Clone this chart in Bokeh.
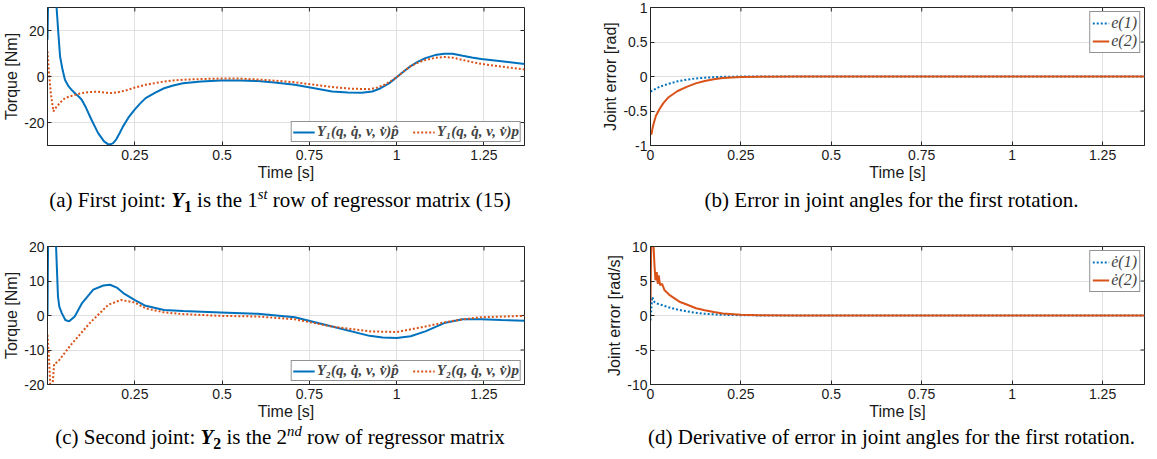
import math
from bokeh.plotting import figure
from bokeh.models import FixedTicker, Range1d, Div, Legend, LegendItem
from bokeh.layouts import row, column
from bokeh.embed import file_html
from bokeh.resources import INLINE

BLUE = "#0072BD"
ORANGE = "#D95319"

# ---------------- data ----------------
# (a) first joint torque
a_blue_t = [0, 0.002, 0.01, 0.02, 0.026, 0.031, 0.036, 0.043, 0.05, 0.06, 0.069, 0.08, 0.09, 0.098,
            0.11, 0.126, 0.145, 0.162, 0.172, 0.18, 0.188, 0.197, 0.206, 0.216, 0.232, 0.249, 0.265,
            0.281, 0.31, 0.334, 0.36, 0.388, 0.44, 0.495, 0.55, 0.602, 0.65, 0.708, 0.76, 0.815,
            0.86, 0.9, 0.93, 0.954, 0.978, 1.0, 1.02, 1.039, 1.06, 1.082, 1.11, 1.136, 1.16, 1.189,
            1.215, 1.242, 1.3, 1.366]
a_blue_v = [16, 35, 60, 45, 30, 19, 8.7, 3.0, -1.4, -4.2, -5.8, -7.5, -8.8, -10.1,
            -13.5, -18.8, -24.6, -28.2, -29.3, -29.5, -29.0, -27.3, -24.8, -21.8, -17.8, -14.5, -11.8,
            -9.4, -6.9, -5.1, -3.9, -2.9, -2.2, -1.7, -1.7, -2.0, -2.6, -3.6, -5.0, -6.5,
            -7.0, -7.1, -6.5, -5.1, -3.0, -0.3, 2.2, 4.4, 6.4, 8.0, 9.3, 9.9, 9.9, 9.0,
            8.3, 7.6, 6.6, 5.4]
a_orange_t = [0, 0.004, 0.01, 0.017, 0.024, 0.031, 0.04, 0.05, 0.065, 0.079, 0.093, 0.107, 0.125,
              0.145, 0.165, 0.183, 0.2, 0.226, 0.25, 0.281, 0.31, 0.334, 0.36, 0.388, 0.44, 0.495,
              0.55, 0.602, 0.65, 0.708, 0.76, 0.815, 0.87, 0.922, 0.945, 0.965, 0.983, 1.0, 1.02,
              1.039, 1.06, 1.082, 1.11, 1.136, 1.16, 1.189, 1.215, 1.242, 1.3, 1.366]
a_orange_v = [10.9, 2.0, -8.0, -15.2, -13.5, -12.3, -10.8, -9.4, -8.6, -8.0, -7.4, -7.0, -6.7,
              -6.6, -7.0, -7.2, -6.9, -6.0, -4.8, -3.6, -2.8, -2.2, -1.7, -1.4, -1.1, -0.9,
              -0.9, -1.3, -1.8, -2.5, -3.5, -4.6, -5.3, -5.5, -4.8, -3.6, -2.0, -0.3, 2.2,
              4.4, 6.0, 7.2, 8.1, 8.5, 8.2, 7.2, 6.3, 5.5, 4.3, 3.1]

# (b) joint angle error
b_e1_t = [0, 0.01, 0.025, 0.05, 0.075, 0.1, 0.125, 0.15, 0.175, 0.2, 0.25, 0.3, 1.366]
b_e1_v = [-0.22, -0.19, -0.15, -0.105, -0.07, -0.045, -0.028, -0.017, -0.01, -0.005, -0.001, 0, 0]
b_e2_t = [0, 0.003, 0.006, 0.01, 0.015, 0.025, 0.035, 0.05, 0.075, 0.1, 0.125, 0.15, 0.175,
          0.2, 0.25, 0.3, 0.4, 1.366]
b_e2_v = [-0.84, -0.83, -0.74, -0.66, -0.57, -0.47, -0.39, -0.30, -0.21, -0.15, -0.10, -0.065,
          -0.04, -0.022, -0.007, -0.002, 0, 0]

# (c) second joint torque
c_blue_t = [0, 0.002, 0.008, 0.018, 0.0245, 0.030, 0.034, 0.041, 0.051, 0.062, 0.078, 0.099,
            0.131, 0.16, 0.179, 0.2, 0.217, 0.249, 0.281, 0.334, 0.388, 0.495, 0.602, 0.708,
            0.815, 0.922, 0.96, 1.0, 1.04, 1.082, 1.136, 1.189, 1.242, 1.3, 1.366]
c_blue_v = [0, 25, 45, 35, 20, 5.5, 2.5, 0.7, -1.3, -1.7, -0.3, 3.6,
            7.5, 8.7, 8.9, 8.0, 6.5, 4.5, 2.8, 1.6, 1.3, 0.9, 0.5, -0.5,
            -3.2, -5.9, -6.4, -6.5, -6.0, -4.6, -2.2, -1.1, -1.1, -1.3, -1.5]
c_orange_t = [0, 0.004, 0.008, 0.014, 0.019, 0.03, 0.067, 0.121, 0.174, 0.21, 0.249, 0.281,
              0.334, 0.388, 0.495, 0.602, 0.708, 0.815, 0.922, 1.0, 1.082, 1.136, 1.189, 1.242,
              1.366]
c_orange_v = [-5.6, -12, -20.5, -21, -14, -13.4, -8.5, -2.2, 3.1, 4.5, 3.8, 2.1,
              0.9, 0.4, -0.1, -0.3, -1.1, -3.2, -4.6, -4.8, -3.2, -2.0, -1.1, -0.5,
              -0.1]

# (d) derivative of joint angle error
d_e1_t = [0, 0.003, 0.005, 0.008, 0.012, 0.02, 0.035, 0.05, 0.075, 0.1, 0.125, 0.15, 0.2,
          0.25, 0.3, 1.366]
d_e1_v = [-0.7, 1.5, 2.7, 2.2, 1.9, 1.7, 1.45, 1.2, 0.85, 0.6, 0.4, 0.25, 0.1,
          0.04, 0.01, 0]
d_e2_t = [0, 0.0016, 0.004, 0.0062, 0.0085, 0.0108, 0.0136, 0.0173, 0.020, 0.0228, 0.0264,
          0.032, 0.0384, 0.052, 0.08, 0.1, 0.126, 0.15, 0.175, 0.2, 0.25, 0.3, 0.4, 1.366]
d_e2_v = [2.0, 9, 12, 12, 10, 7.5, 5.1, 6.3, 4.6, 5.8, 4.4,
          4.6, 3.7, 3.0, 2.0, 1.6, 1.05, 0.75, 0.5, 0.3, 0.12, 0.05, 0.01, 0]

# ticks / labels
x_ticks_ac = [0.25, 0.5, 0.75, 1, 1.25]
x_labels_ac = ["0.25", "0.5", "0.75", "1", "1.25"]
x_ticks_bd = [0, 0.25, 0.5, 0.75, 1, 1.25]
x_labels_bd = ["0", "0.25", "0.5", "0.75", "1", "1.25"]
y_ticks_a = [-20, 0, 20]
y_labels_a = ["-20", "0", "20"]
y_ticks_b = [-1, -0.5, 0, 0.5, 1]
y_labels_b = ["-1", "-0.5", "0", "0.5", "1"]
y_ticks_c = [-20, -10, 0, 10, 20]
y_labels_c = ["-20", "-10", "0", "10", "20"]
y_ticks_d = [-10, -5, 0, 5, 10]
y_labels_d = ["-10", "-5", "0", "5", "10"]

x_lim = (0, 1.366)
y_lim_a = (-30, 30)
y_lim_b = (-1, 1)
y_lim_c = (-20, 20)
y_lim_d = (-10, 10)

leg_a = ["Y\u2081(q, q\u0307, v, v\u0307)p\u0302", "Y\u2081(q, q\u0307, v, v\u0307)p"]
leg_c = ["Y\u2082(q, q\u0307, v, v\u0307)p\u0302", "Y\u2082(q, q\u0307, v, v\u0307)p"]
leg_b = ["e(1)", "e(2)"]
leg_d = ["\u0117(1)", "\u0117(2)"]

SUP = '<sup style="font-size:70%; line-height:0"><i>{}</i></sup>'
SUB = '<sub style="font-size:75%; line-height:0">{}</sub>'
cap_a = "(a) First joint: <b><i>Y</i>" + SUB.format("1") + "</b> is the 1" + SUP.format("st") + " row of regressor matrix (15)"
cap_b = "(b) Error in joint angles for the first rotation."
cap_c = "(c) Second joint: <b><i>Y</i>" + SUB.format("2") + "</b> is the 2" + SUP.format("nd") + " row of regressor matrix"
cap_d = "(d) Derivative of error in joint angles for the first rotation."

SANS = "Liberation Sans"
SERIF = "Liberation Serif"
AX = "#262626"


def make_fig(frame_w, bl, br, bt, bb, yr, xticks, xlabels, yticks, ylabels, ylabel):
    p = figure(frame_width=frame_w, frame_height=138,
               min_border_left=bl, min_border_right=br, min_border_top=bt, min_border_bottom=bb,
               x_range=Range1d(*x_lim), y_range=Range1d(*yr),
               output_backend="svg", toolbar_location=None,
               x_axis_label="Time [s]", y_axis_label=ylabel)
    p.background_fill_color = "white"
    p.border_fill_color = "white"
    p.outline_line_color = AX
    p.outline_line_width = 1
    p.xaxis.ticker = FixedTicker(ticks=xticks)
    p.yaxis.ticker = FixedTicker(ticks=yticks)
    p.xaxis.major_label_overrides = {t: l for t, l in zip(xticks, xlabels)}
    p.yaxis.major_label_overrides = {t: l for t, l in zip(yticks, ylabels)}
    for ax in (p.xaxis[0], p.yaxis[0]):
        ax.major_label_text_font = SANS
        ax.major_label_text_font_size = "14px"
        ax.major_label_text_color = "#1a1a1a"
        ax.axis_label_text_font = SANS
        ax.axis_label_text_font_size = "16px"
        ax.axis_label_text_font_style = "normal"
        ax.axis_label_text_color = "#1a1a1a"
        ax.major_tick_in = 4
        ax.major_tick_out = 0
        ax.minor_tick_line_color = None
        ax.axis_line_color = AX
        ax.major_tick_line_color = AX
    p.xaxis.major_label_standoff = 4
    p.yaxis.major_label_standoff = 3
    p.xaxis.axis_label_standoff = 1
    p.yaxis.axis_label_standoff = 1
    p.xgrid.ticker = FixedTicker(ticks=xticks)
    p.ygrid.ticker = FixedTicker(ticks=yticks)
    p.grid.grid_line_color = "#e1e1e1"
    p.grid.grid_line_width = 1
    # inward tick marks on the top and right sides of the box (clipped to the frame)
    p.scatter(x=xticks, y=[yr[1]] * len(xticks), marker="dash", angle=math.pi / 2,
              size=8, line_color=AX, line_width=1)
    p.scatter(x=[x_lim[1]] * len(yticks), y=yticks, marker="dash",
              size=8, line_color=AX, line_width=1)
    return p


def torque_legend(p, r1, r2, labels):
    lg = Legend(items=[LegendItem(label=labels[0], renderers=[r1]),
                       LegendItem(label=labels[1], renderers=[r2])],
                location="bottom_right", orientation="horizontal", margin=3,
                padding=1, spacing=14, glyph_width=22, glyph_height=12, label_standoff=2,
                label_height=15, label_text_font=SERIF, label_text_font_size="15px",
                label_text_font_style="bold italic", border_line_color=AX,
                border_line_width=1, background_fill_alpha=1)
    p.add_layout(lg)


def err_legend(p, r1, r2, labels):
    lg = Legend(items=[LegendItem(label=labels[0], renderers=[r1]),
                       LegendItem(label=labels[1], renderers=[r2])],
                location="top_right", orientation="vertical", margin=4,
                padding=2, spacing=0, glyph_width=17, glyph_height=14, label_standoff=2,
                label_height=15, label_text_font=SERIF, label_text_font_size="16px",
                label_text_font_style="italic", border_line_color=AX,
                border_line_width=1, background_fill_alpha=1)
    p.add_layout(lg)


DOT = "2 2"

# (a)
fa = make_fig(477, 43, 62, 6, 41, y_lim_a, x_ticks_ac, x_labels_ac, y_ticks_a, y_labels_a, "Torque [Nm]")
ra1 = fa.line(a_blue_t, a_blue_v, line_color=BLUE, line_width=2)
ra2 = fa.line(a_orange_t, a_orange_v, line_color=ORANGE, line_width=2, line_dash=DOT)
torque_legend(fa, ra1, ra2, leg_a)

# (b)
fb = make_fig(494, 64, 1, 6, 41, y_lim_b, x_ticks_bd, x_labels_bd, y_ticks_b, y_labels_b, "Joint error [rad]")
rb1 = fb.line(b_e1_t, b_e1_v, line_color=BLUE, line_width=2, line_dash=DOT)
rb2 = fb.line(b_e2_t, b_e2_v, line_color=ORANGE, line_width=2)
err_legend(fb, rb1, rb2, leg_b)

# (c)
fc = make_fig(477, 43, 62, 30, 40, y_lim_c, x_ticks_ac, x_labels_ac, y_ticks_c, y_labels_c, "Torque [Nm]")
rc1 = fc.line(c_blue_t, c_blue_v, line_color=BLUE, line_width=2)
rc2 = fc.line(c_orange_t, c_orange_v, line_color=ORANGE, line_width=2, line_dash=DOT)
torque_legend(fc, rc1, rc2, leg_c)

# (d)
fd = make_fig(494, 64, 1, 30, 40, y_lim_d, x_ticks_bd, x_labels_bd, y_ticks_d, y_labels_d, "Joint error [rad/s]")
rd1 = fd.line(d_e1_t, d_e1_v, line_color=BLUE, line_width=2, line_dash=DOT)
rd2 = fd.line(d_e2_t, d_e2_v, line_color=ORANGE, line_width=2)
err_legend(fd, rd1, rd2, leg_d)


def caption(html, width, height, shift, pad_top):
    inner = ('<div style="font-family:\'Liberation Serif\',serif; font-size:21px; line-height:22px; '
             'text-align:center; position:relative; left:%dpx; padding-top:%dpx; color:#000; '
             'white-space:nowrap; width:%dpx">%s</div>' % (shift, pad_top, width, html))
    return Div(text=inner, width=width, height=height, margin=0)


layout = column(
    row(fa, fb),
    row(caption(cap_a, 582, 30, -11, 3), caption(cap_b, 559, 30, 30, 3)),
    row(fc, fd),
    row(caption(cap_c, 582, 27, -11, 2), caption(cap_d, 559, 27, 30, 2)),
    styles={"margin-top": "1px"},
)

open("out.html", "w").write(file_html(layout, INLINE))
